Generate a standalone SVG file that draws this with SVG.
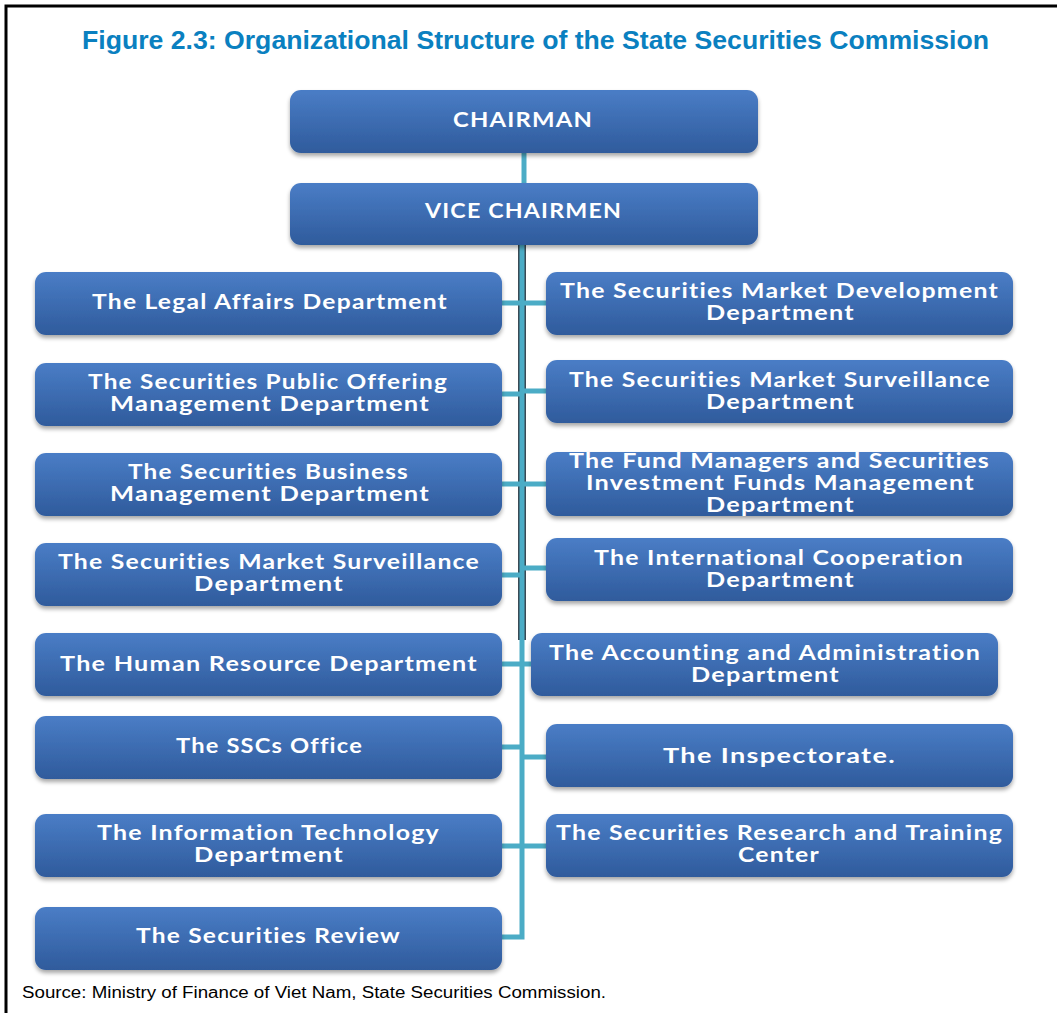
<svg xmlns="http://www.w3.org/2000/svg" width="1057" height="1013" viewBox="0 0 1057 1013">
<style>
.box{fill:url(#g);filter:url(#sh)}
.t{font-family:Lato,"Open Sans","Liberation Sans",sans-serif;font-weight:700;font-size:20px;letter-spacing:1px;fill:#fff}
.c{fill:none;stroke:#4bacc6;stroke-width:5}
.d{fill:none;stroke:#3a4a55;stroke-width:8}
</style>
<defs>
<linearGradient id="g" x1="0" y1="0" x2="0" y2="1">
<stop offset="0" stop-color="#4a7dc6"/>
<stop offset="1" stop-color="#2f5b9c"/>
</linearGradient>
<filter id="sh" x="-5%" y="-10%" width="110%" height="130%">
<feGaussianBlur in="SourceAlpha" stdDeviation="2"/>
<feOffset dy="3" result="b"/>
<feComponentTransfer><feFuncA type="linear" slope="0.35"/></feComponentTransfer>
<feMerge><feMergeNode/><feMergeNode in="SourceGraphic"/></feMerge>
</filter>
</defs>
<rect width="1057" height="1013" fill="#fff"/>
<path d="M6,1013 V6 H1057" fill="none" stroke="#000" stroke-width="3"/>
<text x="82" y="49" textLength="907" lengthAdjust="spacingAndGlyphs" style="font-family:'Liberation Sans',Arial,sans-serif;font-weight:bold;font-size:25px;fill:#0a80c0">Figure 2.3: Organizational Structure of the State Securities Commission</text>

<g id="connectors">
<path class="c" d="M524,153 V183"/>
<path class="d" d="M522,245 V640"/>
<path class="c" d="M522,245 V937 H502"/>
<path class="c" d="M502,303 H546 M502,394 H522 M522,391 H546 M502,484 H546 M502,575 H522 M522,568 H546 M502,664 H531 M502,747 H522 M522,757 H546 M502,846 H546"/>
</g>

<g id="chairman"><rect class="box" x="290" y="90" width="468" height="63" rx="11"/><text class="t" x="453" y="127" textLength="140" lengthAdjust="spacingAndGlyphs">CHAIRMAN</text></g>
<g id="vice"><rect class="box" x="290" y="183" width="468" height="62" rx="11"/><text class="t" x="425" y="218" textLength="197" lengthAdjust="spacingAndGlyphs">VICE CHAIRMEN</text></g>

<g id="legal"><rect class="box" x="35" y="272" width="467" height="63" rx="11"/><text class="t" x="92" y="309" textLength="356" lengthAdjust="spacingAndGlyphs">The Legal Affairs Department</text></g>
<g id="offering"><rect class="box" x="35" y="363" width="467" height="63" rx="11"/><text class="t" x="88" y="389" textLength="360" lengthAdjust="spacingAndGlyphs">The Securities Public Offering</text><text class="t" x="110" y="411" textLength="320" lengthAdjust="spacingAndGlyphs">Management Department</text></g>
<g id="business"><rect class="box" x="35" y="453" width="467" height="63" rx="11"/><text class="t" x="128" y="479" textLength="281" lengthAdjust="spacingAndGlyphs">The Securities Business</text><text class="t" x="110" y="501" textLength="320" lengthAdjust="spacingAndGlyphs">Management Department</text></g>
<g id="surveillance-l"><rect class="box" x="35" y="543" width="467" height="63" rx="11"/><text class="t" x="58" y="569" textLength="422" lengthAdjust="spacingAndGlyphs">The Securities Market Surveillance</text><text class="t" x="194" y="591" textLength="150" lengthAdjust="spacingAndGlyphs">Department</text></g>
<g id="hr"><rect class="box" x="35" y="633" width="467" height="63" rx="11"/><text class="t" x="60" y="671" textLength="418" lengthAdjust="spacingAndGlyphs">The Human Resource Department</text></g>
<g id="office"><rect class="box" x="35" y="716" width="467" height="63" rx="11"/><text class="t" x="176" y="753" textLength="187" lengthAdjust="spacingAndGlyphs">The SSCs Office</text></g>
<g id="it"><rect class="box" x="35" y="814" width="467" height="63" rx="11"/><text class="t" x="97" y="840" textLength="343" lengthAdjust="spacingAndGlyphs">The Information Technology</text><text class="t" x="194" y="862" textLength="150" lengthAdjust="spacingAndGlyphs">Department</text></g>
<g id="review"><rect class="box" x="35" y="907" width="467" height="63" rx="11"/><text class="t" x="136" y="943" textLength="265" lengthAdjust="spacingAndGlyphs">The Securities Review</text></g>

<g id="development"><rect class="box" x="546" y="272" width="467" height="63" rx="11"/><text class="t" x="560" y="298" textLength="439" lengthAdjust="spacingAndGlyphs">The Securities Market Development</text><text class="t" x="706" y="320" textLength="149" lengthAdjust="spacingAndGlyphs">Department</text></g>
<g id="surveillance-r"><rect class="box" x="546" y="360" width="467" height="63" rx="11"/><text class="t" x="569" y="387" textLength="422" lengthAdjust="spacingAndGlyphs">The Securities Market Surveillance</text><text class="t" x="706" y="409" textLength="149" lengthAdjust="spacingAndGlyphs">Department</text></g>
<g id="fund"><rect class="box" x="546" y="452" width="467" height="64" rx="11"/><text class="t" x="569" y="468" textLength="421" lengthAdjust="spacingAndGlyphs">The Fund Managers and Securities</text><text class="t" x="586" y="490" textLength="389" lengthAdjust="spacingAndGlyphs">Investment Funds Management</text><text class="t" x="706" y="512" textLength="149" lengthAdjust="spacingAndGlyphs">Department</text></g>
<g id="intl"><rect class="box" x="546" y="538" width="467" height="63" rx="11"/><text class="t" x="594" y="565" textLength="370" lengthAdjust="spacingAndGlyphs">The International Cooperation</text><text class="t" x="706" y="587" textLength="149" lengthAdjust="spacingAndGlyphs">Department</text></g>
<g id="accounting"><rect class="box" x="531" y="633" width="467" height="63" rx="11"/><text class="t" x="549" y="660" textLength="432" lengthAdjust="spacingAndGlyphs">The Accounting and Administration</text><text class="t" x="691" y="682" textLength="149" lengthAdjust="spacingAndGlyphs">Department</text></g>
<g id="inspectorate"><rect class="box" x="546" y="724" width="467" height="63" rx="11"/><text class="t" x="663" y="763" textLength="233" lengthAdjust="spacingAndGlyphs">The Inspectorate.</text></g>
<g id="research"><rect class="box" x="546" y="814" width="467" height="63" rx="11"/><text class="t" x="556" y="840" textLength="447" lengthAdjust="spacingAndGlyphs">The Securities Research and Training</text><text class="t" x="738" y="862" textLength="82" lengthAdjust="spacingAndGlyphs">Center</text></g>

<text x="22" y="998" textLength="584" lengthAdjust="spacingAndGlyphs" style="font-family:'Liberation Sans',Arial,sans-serif;font-size:16px;fill:#000">Source: Ministry of Finance of Viet Nam, State Securities Commission.</text>
</svg>
